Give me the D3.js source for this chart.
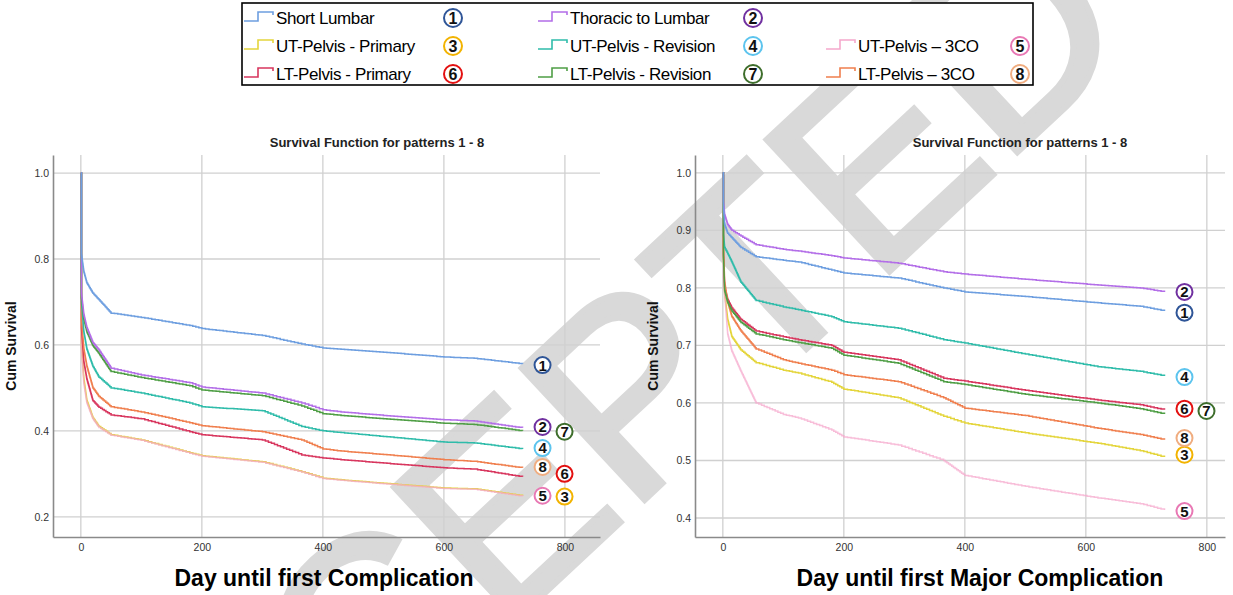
<!DOCTYPE html>
<html>
<head>
<meta charset="utf-8">
<script src="https://cdn.jsdelivr.net/npm/d3@7"></script>
<style>
  html, body { margin: 0; padding: 0; background: #fff; }
  svg { display: block; font-family: Arial, 'Liberation Sans', sans-serif; }
</style>
</head>
<body>
<script>
// patterns 1 - 8
var patterns = ['Short Lumbar', 'Thoracic to Lumbar', 'UT-Pelvis - Primary', 'UT-Pelvis - Revision',
                'UT-Pelvis \u2013 3CO', 'LT-Pelvis - Primary', 'LT-Pelvis - Revision', 'LT-Pelvis \u2013 3CO']
var markers = ['1', '2', '3', '4', '5', '6', '7', '8']
var lineColors = ['#6d9ee0', '#b36ee8', '#e4d53c', '#2fbcaa', '#f5a8cc', '#d8365e', '#4f9e45', '#f07f4e']
var lineAlpha = [1, 1, 1, 1, 0.75, 1, 1, 1]
var ringColors = ['#2f5597', '#7030a0', '#f2b300', '#5cc4ee', '#e878b4', '#e31010', '#3e6e2c', '#f0ad80']

var xTicks = [0, 200, 400, 600, 800]
var yTicksAny = [0.2, 0.4, 0.6, 0.8, 1.0]
var yTicksMajor = [0.4, 0.5, 0.6, 0.7, 0.8, 0.9, 1.0]

// Day until first Complication
var daysAny = [0, 1, 5, 10, 20, 30, 50, 100, 180, 200, 300, 365, 400, 430, 500, 600, 650, 730]
var anyP1 = [1, 0.81, 0.77, 0.744, 0.72, 0.705, 0.674, 0.664, 0.645, 0.638, 0.622, 0.602, 0.593, 0.590, 0.583, 0.572, 0.569, 0.556]
var anyP2 = [1, 0.72, 0.67, 0.64, 0.605, 0.588, 0.546, 0.53, 0.512, 0.502, 0.488, 0.465, 0.449, 0.444, 0.436, 0.426, 0.423, 0.407]
var anyP3 = [1, 0.60, 0.52, 0.47, 0.43, 0.41, 0.391, 0.379, 0.349, 0.342, 0.328, 0.305, 0.290, 0.286, 0.278, 0.267, 0.265, 0.249]
var anyP4 = [1, 0.70, 0.63, 0.59, 0.55, 0.525, 0.50, 0.488, 0.465, 0.456, 0.447, 0.41, 0.40, 0.396, 0.387, 0.374, 0.372, 0.358]
var anyP5 = [1, 0.59, 0.51, 0.465, 0.428, 0.408, 0.390, 0.378, 0.348, 0.341, 0.327, 0.304, 0.289, 0.285, 0.277, 0.266, 0.264, 0.248]
var anyP6 = [1, 0.64, 0.56, 0.52, 0.47, 0.455, 0.437, 0.428, 0.398, 0.391, 0.379, 0.344, 0.337, 0.333, 0.325, 0.314, 0.311, 0.293]
var anyP7 = [1, 0.71, 0.66, 0.63, 0.598, 0.58, 0.538, 0.524, 0.505, 0.495, 0.482, 0.458, 0.44, 0.436, 0.428, 0.418, 0.415, 0.400]
var anyP8 = [1, 0.66, 0.59, 0.55, 0.50, 0.48, 0.456, 0.444, 0.419, 0.412, 0.398, 0.379, 0.358, 0.353, 0.345, 0.333, 0.329, 0.314]
// end-of-curve marker levels and column (0 = near, 1 = far)
var anyMarkY = [0.553, 0.409, 0.247, 0.36, 0.249, 0.30, 0.398, 0.316]
var anyMarkCol = [0, 0, 1, 0, 0, 1, 1, 0]

// Day until first Major Complication
var daysMajor = [0, 1, 3, 8, 15, 30, 55, 100, 125, 180, 200, 290, 365, 400, 500, 620, 690, 730]
var majP1 = [1, 0.94, 0.91, 0.895, 0.887, 0.87, 0.854, 0.848, 0.845, 0.831, 0.826, 0.817, 0.80, 0.793, 0.785, 0.774, 0.768, 0.760]
var majP2 = [1, 0.95, 0.927, 0.91, 0.90, 0.89, 0.875, 0.867, 0.864, 0.856, 0.852, 0.843, 0.828, 0.824, 0.815, 0.805, 0.80, 0.793]
var majP3 = [1, 0.85, 0.79, 0.745, 0.715, 0.692, 0.670, 0.657, 0.652, 0.636, 0.624, 0.609, 0.577, 0.565, 0.548, 0.530, 0.517, 0.506]
var majP4 = [1, 0.892, 0.87, 0.86, 0.845, 0.81, 0.778, 0.767, 0.762, 0.75, 0.741, 0.73, 0.71, 0.704, 0.685, 0.663, 0.655, 0.647]
var majP5 = [1, 0.82, 0.79, 0.72, 0.69, 0.655, 0.60, 0.58, 0.574, 0.553, 0.541, 0.527, 0.50, 0.474, 0.455, 0.435, 0.425, 0.414]
var majP6 = [1, 0.86, 0.80, 0.78, 0.765, 0.745, 0.725, 0.715, 0.71, 0.70, 0.688, 0.675, 0.643, 0.638, 0.622, 0.605, 0.597, 0.588]
var majP7 = [1, 0.855, 0.795, 0.775, 0.76, 0.74, 0.72, 0.71, 0.705, 0.695, 0.683, 0.669, 0.637, 0.632, 0.615, 0.60, 0.59, 0.581]
var majP8 = [1, 0.87, 0.81, 0.775, 0.75, 0.725, 0.694, 0.675, 0.669, 0.657, 0.649, 0.637, 0.609, 0.591, 0.578, 0.556, 0.545, 0.536]
var majMarkY = [0.757, 0.793, 0.51, 0.645, 0.412, 0.59, 0.586, 0.539]
var majMarkCol = [0, 0, 0, 0, 0, 0, 1, 0]

var W = 1233, H = 595

var svg = d3.select('body').append('svg')
  .attr('width', W)
  .attr('height', H)

svg.append('rect').attr('width', W).attr('height', H).attr('fill', '#fff')

// watermark
svg.append('text')
  .attr('transform', 'translate(1140,38) rotate(-43)')
  .attr('text-anchor', 'end')
  .attr('font-size', 262)
  .attr('fill', '#d9d9d9')
  .attr('stroke', '#d9d9d9')
  .attr('stroke-width', 6)
  .text('ACCEPTED')

function ringNumber(g, x, y, i, r, fs) {
  g.append('circle')
    .attr('cx', x).attr('cy', y).attr('r', r)
    .attr('fill', '#fff')
    .attr('stroke', ringColors[i])
    .attr('stroke-width', 2)
  g.append('text')
    .attr('x', x).attr('y', y)
    .attr('dy', '0.36em')
    .attr('text-anchor', 'middle')
    .attr('font-size', fs)
    .attr('font-weight', 'bold')
    .attr('fill', '#111')
    .text(markers[i])
}

function drawChart(o) {
  var g = svg.append('g')
  var x = d3.scaleLinear().domain(o.xDomain).range([o.left, o.right])
  var y = d3.scaleLinear().domain(o.yDomain).range([o.bottom, o.top])

  // grid
  g.selectAll('.hg').data(o.yTicks).enter().append('line')
    .attr('x1', o.left).attr('x2', o.right)
    .attr('y1', function(d) { return y(d) }).attr('y2', function(d) { return y(d) })
    .attr('stroke', '#d0d0d0').attr('stroke-width', 1.3)
  g.selectAll('.vg').data(o.xTicks).enter().append('line')
    .attr('x1', function(d) { return x(d) }).attr('x2', function(d) { return x(d) })
    .attr('y1', o.top).attr('y2', o.bottom)
    .attr('stroke', '#d0d0d0').attr('stroke-width', 1.3)

  // axes
  var xa = g.append('g').attr('transform', 'translate(0,' + o.bottom + ')')
    .call(d3.axisBottom(x).tickValues(o.xTicks).tickSize(0).tickPadding(7).tickFormat(d3.format('d')))
  var ya = g.append('g').attr('transform', 'translate(' + o.left + ',0)')
    .call(d3.axisLeft(y).tickValues(o.yTicks).tickSize(0).tickPadding(4).tickFormat(d3.format('.1f')))
  ;[xa, ya].forEach(function(a) {
    a.select('.domain').attr('stroke', '#8a8a8a').attr('stroke-width', 1.6)
    a.selectAll('text').attr('font-size', 10.5).attr('fill', '#333').attr('font-family', 'Arial, sans-serif')
  })

  // curves: read points joined by many tiny steps, like a KM estimate
  var line = d3.line()
    .x(function(d) { return x(d[0]) })
    .y(function(d) { return y(d[1]) })
    .curve(d3.curveStepAfter)
  var drawOrder = [2, 4, 5, 7, 3, 6, 1, 0]
  drawOrder.forEach(function(i) {
    var pts = o.days.map(function(d, k) { return [d, o.series[i][k]] })
    var fine = [pts[0]]
    for (var k = 0; k < pts.length - 1; k++) {
      var a = pts[k], b = pts[k + 1]
      if (k === 0) { fine.push(b); continue }
      var n = Math.max(1, Math.ceil((b[0] - a[0]) / 6), Math.ceil(Math.abs(y(a[1]) - y(b[1])) / 1.2))
      for (var s = 1; s <= n; s++) {
        fine.push([a[0] + (b[0] - a[0]) * s / n, a[1] + (b[1] - a[1]) * s / n])
      }
    }
    g.append('path')
      .attr('d', line(fine))
      .attr('fill', 'none')
      .attr('stroke', lineColors[i])
      .attr('stroke-opacity', lineAlpha[i])
      .attr('stroke-width', 1.5)
  })

  // end markers
  var endX = x(o.days[o.days.length - 1])
  o.markY.forEach(function(v, i) {
    ringNumber(g, endX + 20 + o.markCol[i] * 22, y(v), i, 8, 15)
  })

  g.append('text')
    .attr('x', o.titleX).attr('y', 147)
    .attr('text-anchor', 'middle')
    .attr('font-size', 13).attr('font-weight', 'bold').attr('fill', '#222')
    .text('Survival Function for patterns 1 - 8')

  g.append('text')
    .attr('transform', 'translate(' + (o.left - 37) + ',' + ((o.top + o.bottom) / 2) + ') rotate(-90)')
    .attr('text-anchor', 'middle')
    .attr('font-size', 14).attr('font-weight', 'bold').attr('fill', '#111')
    .text('Cum Survival')

  g.append('text')
    .attr('x', o.xLabelX).attr('y', 586)
    .attr('text-anchor', 'middle')
    .attr('font-size', 23).attr('font-weight', 'bold').attr('fill', '#000')
    .text(o.xLabel)
}

drawChart({
  left: 53, right: 600, top: 155, bottom: 537,
  xDomain: [-46, 858], yDomain: [0.153, 1.042],
  xTicks: xTicks, yTicks: yTicksAny,
  days: daysAny,
  series: [anyP1, anyP2, anyP3, anyP4, anyP5, anyP6, anyP7, anyP8],
  markY: anyMarkY, markCol: anyMarkCol,
  titleX: 377, xLabelX: 324, xLabel: 'Day until first Complication'
})

drawChart({
  left: 695, right: 1225, top: 155, bottom: 537,
  xDomain: [-46, 830], yDomain: [0.367, 1.031],
  xTicks: xTicks, yTicks: yTicksMajor,
  days: daysMajor,
  series: [majP1, majP2, majP3, majP4, majP5, majP6, majP7, majP8],
  markY: majMarkY, markCol: majMarkCol,
  titleX: 1020, xLabelX: 980, xLabel: 'Day until first Major Complication'
})

// legend
var leg = svg.append('g')
leg.append('rect')
  .attr('x', 242).attr('y', 3).attr('width', 791).attr('height', 82)
  .attr('fill', '#fff').attr('stroke', '#000').attr('stroke-width', 1.6)

var legCols = [244, 538, 826]
var legRows = [18, 46, 74]
var legCells = [[0, 0, 0], [1, 1, 0], [2, 0, 1], [3, 1, 1], [4, 2, 1], [5, 0, 2], [6, 1, 2], [7, 2, 2]]
var ringOffset = [209, 215, 194]

legCells.forEach(function(c) {
  var i = c[0], x0 = legCols[c[1]], yc = legRows[c[2]]
  leg.append('path')
    .attr('d', 'M' + x0 + ',' + (yc + 3) + 'H' + (x0 + 14) + 'V' + (yc - 6) + 'H' + (x0 + 29) + 'V' + (yc - 3))
    .attr('fill', 'none').attr('stroke', lineColors[i]).attr('stroke-width', 1.6)
  leg.append('text')
    .attr('x', x0 + 32).attr('y', yc).attr('dy', '0.35em')
    .attr('font-size', 17).attr('fill', '#000')
    .attr('letter-spacing', -0.4)
    .text(patterns[i])
  ringNumber(leg, x0 + ringOffset[c[1]], yc, i, 9, 16)
})
</script>
</body>
</html>
